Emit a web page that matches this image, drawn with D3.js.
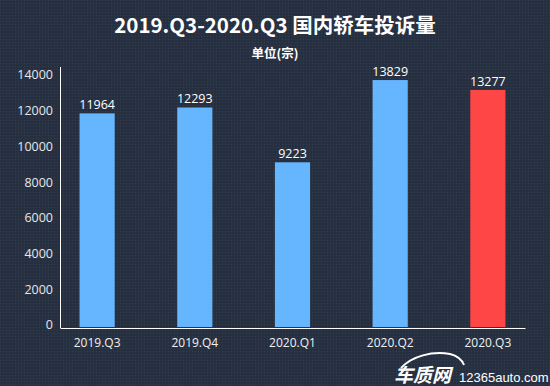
<!DOCTYPE html>
<html>
<head>
<meta charset="utf-8">
<script src="https://cdn.jsdelivr.net/npm/d3@7"></script>
<style>
  html, body { margin: 0; padding: 0; background: #283142; }
  svg { display: block; }
</style>
</head>
<body>
<svg width="550" height="386"></svg>
<script>
// chart data
const quarters = ["2019.Q3", "2019.Q4", "2020.Q1", "2020.Q2", "2020.Q3"]
const complaints = [11964, 12293, 9223, 13829, 13277]
const yTicks = [0, 2000, 4000, 6000, 8000, 10000, 12000, 14000]

const width = 550
const height = 386
const font = "'Open Sans', 'Noto Sans CJK SC', sans-serif"
const cjk = "'Noto Sans CJK SC', sans-serif"

const svg = d3.select("svg")

// dotted background texture
const defs = svg.append("defs")
const pat = defs.append("pattern")
  .attr("id", "dots")
  .attr("width", 3)
  .attr("height", 3)
  .attr("patternUnits", "userSpaceOnUse")
pat.append("rect").attr("width", 3).attr("height", 3).attr("fill", "#283142")
pat.append("rect").attr("x", 0).attr("y", 0).attr("width", 1).attr("height", 1).attr("fill", "#323c4f")
pat.append("rect").attr("x", 1.5).attr("y", 1.5).attr("width", 1).attr("height", 1).attr("fill", "#1f2736")

svg.append("rect")
  .attr("width", width)
  .attr("height", height)
  .attr("fill", "url(#dots)")

// title
svg.append("text")
  .attr("x", 275)
  .attr("y", 33)
  .attr("text-anchor", "middle")
  .style("font-family", cjk)
  .style("font-size", "20.5px")
  .style("font-weight", "bold")
  .style("fill", "#ffffff")
  .text("2019.Q3-2020.Q3 国内轿车投诉量")

svg.append("text")
  .attr("x", 275)
  .attr("y", 58)
  .attr("text-anchor", "middle")
  .style("font-family", cjk)
  .style("font-size", "12.5px")
  .style("font-weight", "bold")
  .style("fill", "#ffffff")
  .text("单位(宗)")

// scales
const x = d3.scaleBand()
  .domain(quarters)
  .range([60, 525])
  .paddingInner(0.64)
  .paddingOuter(0.2)

const y = d3.scaleLinear()
  .domain([0, 14000])
  .range([327, 77])

// y axis
const yaxis_group = svg.append("g")
  .attr("transform", "translate(60,0)")
  .call(d3.axisLeft(y).tickValues(yTicks).tickSize(0).tickPadding(7).tickFormat(d3.format("d")))
yaxis_group.select(".domain").remove()
yaxis_group.selectAll("text")
  .attr("dy", "0.15em")
  .style("font-family", font)
  .style("font-size", "12.5px")
  .style("fill", "#e6e6e6")

svg.append("line")
  .attr("x1", 60.5).attr("x2", 60.5)
  .attr("y1", 67).attr("y2", 328)
  .attr("stroke", "#ffffff").attr("stroke-width", 1)

// bars
svg.selectAll(".bar")
  .data(complaints)
  .join("rect")
  .attr("class", "bar")
  .attr("x", (d, i) => x(quarters[i]))
  .attr("y", d => y(d))
  .attr("width", x.bandwidth())
  .attr("height", d => y(0) - y(d))
  .attr("fill", (d, i) => i === quarters.length - 1 ? "#ff4646" : "#66b5ff")

// value labels
svg.selectAll(".val")
  .data(complaints)
  .join("text")
  .attr("class", "val")
  .attr("x", (d, i) => x(quarters[i]) + x.bandwidth() / 2)
  .attr("y", d => y(d) - 4)
  .attr("text-anchor", "middle")
  .style("font-family", font)
  .style("font-size", "12.5px")
  .style("fill", "#ffffff")
  .text(d => d)

// x axis
const xaxis_group = svg.append("g")
  .attr("transform", "translate(0,328)")
  .call(d3.axisBottom(x).tickSize(0).tickPadding(10))
xaxis_group.select(".domain")
  .attr("stroke", "#ffffff")
xaxis_group.selectAll("text")
  .style("font-family", font)
  .style("font-size", "12px")
  .style("fill", "#f0f0f0")

// watermark
const wm = svg.append("g")
wm.append("path")
  .attr("d", "M401,368 C412,356 432,351 450,354 C458,356 462,360 464,365")
  .attr("fill", "none")
  .attr("stroke", "#ffffff")
  .attr("stroke-width", 2)
wm.append("text")
  .attr("x", 394)
  .attr("y", 382)
  .style("font-family", cjk)
  .style("font-size", "19px")
  .style("font-weight", "bold")
  .style("font-style", "italic")
  .style("fill", "#ffffff")
  .text("车质网")
wm.append("text")
  .attr("x", 459)
  .attr("y", 382)
  .style("font-family", "'Liberation Sans', Arial, sans-serif")
  .style("font-size", "13px")
  .style("fill", "#ffffff")
  .text("12365auto.com")
</script>
</body>
</html>
